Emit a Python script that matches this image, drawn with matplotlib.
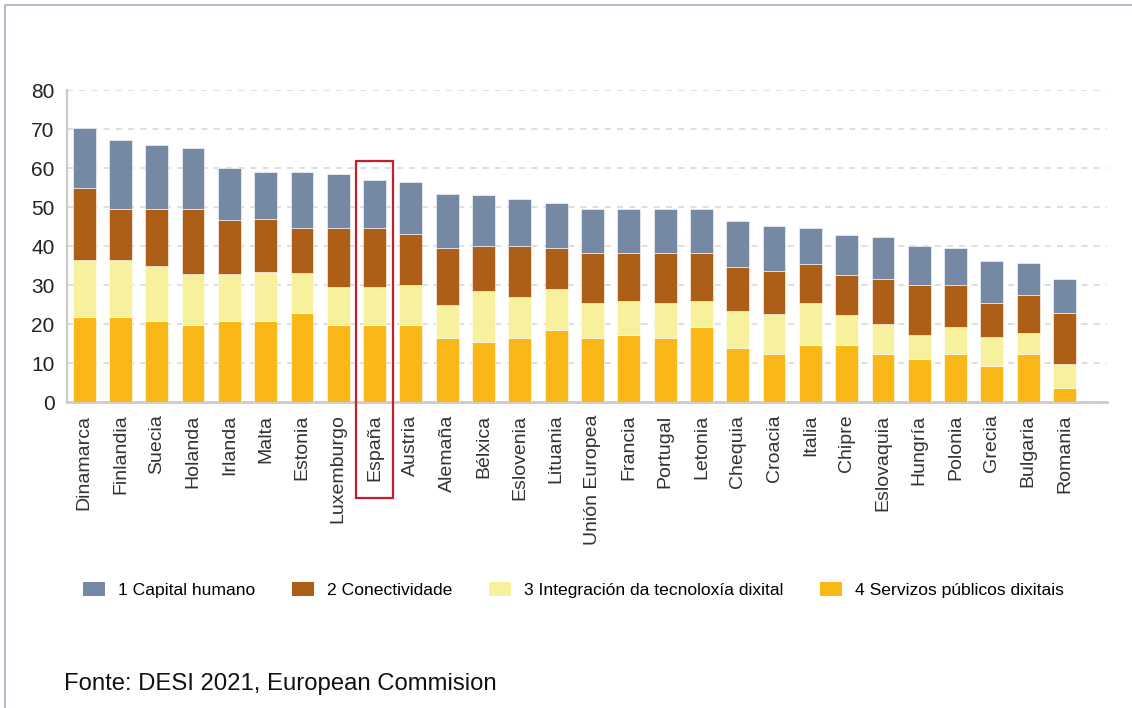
import numpy as np
import matplotlib.pyplot as plt
from matplotlib.patches import Patch, Rectangle
from matplotlib.lines import Line2D

plt.rcParams['font.family'] = ['Liberation Sans', 'DejaVu Sans']

# Datos DESI 2021
paises = ['Dinamarca', 'Finlandia', 'Suecia', 'Holanda', 'Irlanda', 'Malta',
          'Estonia', 'Luxemburgo', 'España', 'Austria', 'Alemaña', 'Bélxica',
          'Eslovenia', 'Lituania', 'Unión Europea', 'Francia', 'Portugal',
          'Letonia', 'Chequia', 'Croacia', 'Italia', 'Chipre', 'Eslovaquia',
          'Hungría', 'Polonia', 'Grecia', 'Bulgaria', 'Romania']

servizos = [21.8, 21.8, 20.8, 19.7, 20.8, 20.8, 22.7, 19.7, 19.7, 19.7, 16.4, 15.5,
            16.4, 18.5, 16.4, 17.2, 16.4, 19.2, 13.8, 12.2, 14.6, 14.6, 12.2,
            11.0, 12.2, 9.3, 12.2, 3.6]
integracion = [14.5, 14.5, 14.0, 13.1, 12.0, 12.6, 10.3, 9.7, 9.7, 10.2, 8.4, 13.0,
               10.6, 10.5, 9.0, 8.7, 9.0, 6.7, 9.6, 10.4, 10.8, 7.6, 7.7,
               6.1, 7.0, 7.3, 5.6, 6.2]
conectividade = [18.6, 13.2, 14.7, 16.7, 13.8, 13.6, 11.7, 15.1, 15.3, 13.1, 14.8, 11.6,
                 13.1, 10.6, 12.7, 12.2, 12.7, 12.2, 11.2, 10.9, 10.1, 10.4, 11.6,
                 13.0, 10.9, 8.8, 9.7, 13.0]
capital = [15.4, 17.7, 16.3, 15.6, 13.5, 12.1, 14.4, 13.9, 12.1, 13.3, 13.8, 12.9,
           11.9, 11.3, 11.5, 11.5, 11.5, 11.5, 11.8, 11.6, 9.1, 10.3, 10.7,
           9.9, 9.3, 10.8, 8.1, 8.8]

series = [
    ('4 Servizos públicos dixitais', servizos, '#f9b817'),
    ('3 Integración da tecnoloxía dixital', integracion, '#f7f09d'),
    ('2 Conectividade', conectividade, '#ad5f17'),
    ('1 Capital humano', capital, '#7589a5'),
]

fig = plt.figure(figsize=(11.32, 7.08), dpi=100)
ax = fig.add_axes([67 / 1132, 1 - 402 / 708, (1107 - 67) / 1132, (402 - 90) / 708])

x = np.arange(len(paises))
bottom = np.zeros(len(paises))
for nome, vals, cor in series:
    vals = np.array(vals)
    ax.bar(x, vals, bottom=bottom, width=0.63, color=cor,
           edgecolor='white', linewidth=0.4, zorder=3)
    bottom += vals

ax.set_xlim(-0.47, len(paises) + 0.17)
ax.set_ylim(0, 80)
ax.set_yticks(np.arange(0, 81, 10))
ax.set_xticks(x)
ax.set_xticklabels(paises, rotation=90, fontsize=14, color='#333333')
ax.tick_params(axis='x', length=0, pad=9)
ax.tick_params(axis='y', length=0, pad=9, labelsize=15, labelcolor='#222222')

ax.yaxis.grid(True, color='#d6d6d6', linestyle=(0, (4, 4)), linewidth=1.1, zorder=0)
for s in ['top', 'right']:
    ax.spines[s].set_visible(False)
ax.spines['left'].set_color('#cccccc')
ax.spines['left'].set_linewidth(1.6)
ax.spines['bottom'].set_color('#cccccc')
ax.spines['bottom'].set_linewidth(2)

# recadro vermello arredor de España
i_es = paises.index('España')
ax.add_patch(Rectangle((i_es - 0.5, -24.5), 1.0, 86.4, fill=False,
                       edgecolor='#c3202c', linewidth=1.6, clip_on=False, zorder=5))

# lenda
handles = [Patch(facecolor=c, edgecolor='none', label=n) for n, _, c in series[::-1]]
fig.legend(handles=handles, loc='center left', bbox_to_anchor=(83 / 1132, 1 - 590 / 708),
           ncol=4, frameon=False, fontsize=12.6, handlelength=1.25, handleheight=0.8,
           handletextpad=0.75, columnspacing=2.1, borderpad=0, borderaxespad=0)

fig.text(64 / 1132, 1 - 684 / 708, 'Fonte: DESI 2021, European Commision',
         fontsize=17.2, color='#111111', va='center', ha='left')

# marco exterior
fig.add_artist(Line2D([5 / 1132, 1], [1 - 5 / 708, 1 - 5 / 708], color='#bdb8cc',
                      linewidth=1.5, transform=fig.transFigure))
fig.add_artist(Line2D([5 / 1132, 5 / 1132], [0, 1 - 5 / 708], color='#bdb8cc',
                      linewidth=1.5, transform=fig.transFigure))

fig.savefig('out.png', dpi=100)
